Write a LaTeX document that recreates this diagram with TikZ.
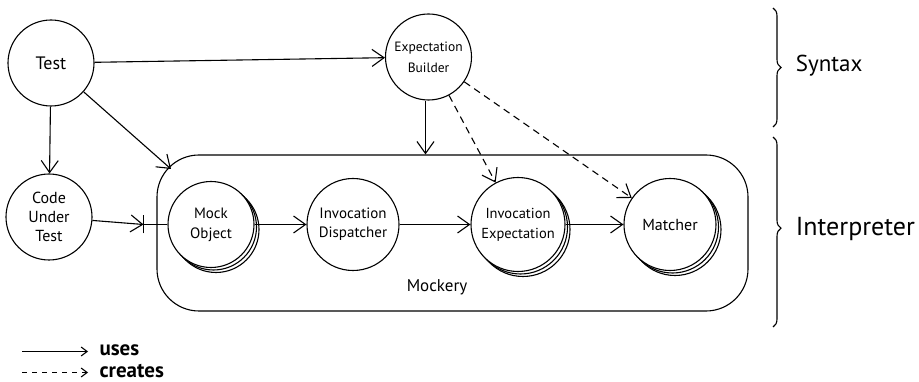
\documentclass[tikz,border=0pt]{standalone}
\usepackage{fontspec}
\setmainfont{PT Sans}
\usetikzlibrary{arrows.meta,decorations.pathreplacing}
\begin{document}
\begin{tikzpicture}[x=1pt,y=-1pt,line width=1.1pt,
  every node/.style={align=center},
  actor/.style={draw,circle,fill=white,inner sep=0pt},
  uses/.style={-{Straight Barb[length=12pt,width=17pt,line width=1.1pt]}},
  creates/.style={uses,dashed,dash pattern=on 7pt off 5pt},
  brc/.style={decorate,decoration={brace,amplitude=8pt,aspect=#1}},
  brc/.default=0.5]
\useasboundingbox (0,0) rectangle (919,382);
% Mockery container
\node[draw,rounded corners=42pt,minimum width=591pt,minimum height=156pt,inner sep=0pt] (mockery) at (452.5,233) {};
\node[font=\fontsize{17}{19}\selectfont] (mockerylbl) at (437,287) {Mockery};
% top nodes
\node[actor,minimum size=86pt,font=\fontsize{18}{20}\selectfont] (test) at (51,63) {Test};
\node[actor,minimum size=86pt,font=\fontsize{13.5}{21}\selectfont] (eb) at (428.5,57) {Expectation\\Builder};
\node[actor,minimum size=86pt,font=\fontsize{16}{19}\selectfont] (cut) at (49,217) {Code\\Under\\Test};
% stacked: Mock Object
\foreach \d in {5,2.5} \draw[fill=white] (211+\d,224.5+\d) circle (43pt);
\node[actor,minimum size=86pt,font=\fontsize{15}{20}\selectfont] (mock) at (211,224.5) {Mock\\Object};
\node[actor,minimum size=92pt,font=\fontsize{15}{19}\selectfont] (disp) at (353,224.5) {Invocation\\Dispatcher};
\foreach \d in {5,2.5} \draw[fill=white] (518+\d,224.5+\d) circle (47pt);
\node[actor,minimum size=94pt,font=\fontsize{14.5}{20}\selectfont] (iexp) at (518,224.5) {Invocation\\Expectation};
\foreach \d in {5,2.5} \draw[fill=white] (670+\d,224.5+\d) circle (46pt);
\node[actor,minimum size=92pt,font=\fontsize{16}{18}\selectfont] (matcher) at (670,224.5) {Matcher};
% connectors
\draw[uses] (test) -- (eb);
\draw[uses] (test) -- (cut);
\coordinate (mcorner) at (171,169);
\draw[uses] (test) -- (mcorner);
\draw[uses] ([xshift=-3pt]eb.south) -- ([xshift=-3pt]eb.south |- mockery.north);
\draw[creates] (eb) -- (iexp);
\draw[creates] (eb) -- (matcher);
\coordinate (tick) at (143.5,224.5);
\draw[uses] (cut) -- (tick);
\draw ([yshift=-9pt]tick) -- ([yshift=9pt]tick);
\draw (tick) -- (mock);
\draw[uses] (mock) -- (disp);
\draw[uses] (disp) -- (iexp);
\draw[uses] (iexp) -- (matcher);
% braces
\coordinate (s1) at (773,8); \coordinate (s2) at (773,127);
\draw[brc] (s1) -- (s2);
\node[anchor=west,font=\fontsize{23}{26}\selectfont] (syntax) at (792,66) {Syntax};
\coordinate (i1) at (773,137); \coordinate (i2) at (773,327);
\draw[brc=0.48] (i1) -- (i2);
\node[anchor=west,font=\fontsize{26}{28}\selectfont] (interp) at (792,229) {Interpreter};
% legend
\coordinate (l1a) at (22,351.5); \coordinate (l1b) at (88,351.5);
\coordinate (l2a) at (22,372.5); \coordinate (l2b) at (88,372.5);
\draw[-{Straight Barb[length=6pt,width=9pt,line width=1.1pt]}] (l1a) -- (l1b);
\draw[dashed,dash pattern=on 5pt off 5pt,-{Straight Barb[length=6pt,width=9pt,line width=1.1pt]}] (l2a) -- (l2b);
\node[anchor=west,font=\bfseries\fontsize{21}{22}\selectfont,inner sep=2pt] (luses) at (97,350) {uses};
\node[anchor=west,font=\bfseries\fontsize{21}{22}\selectfont,inner sep=2pt] (lcreates) at (97,371) {creates};
\end{tikzpicture}
\end{document}
